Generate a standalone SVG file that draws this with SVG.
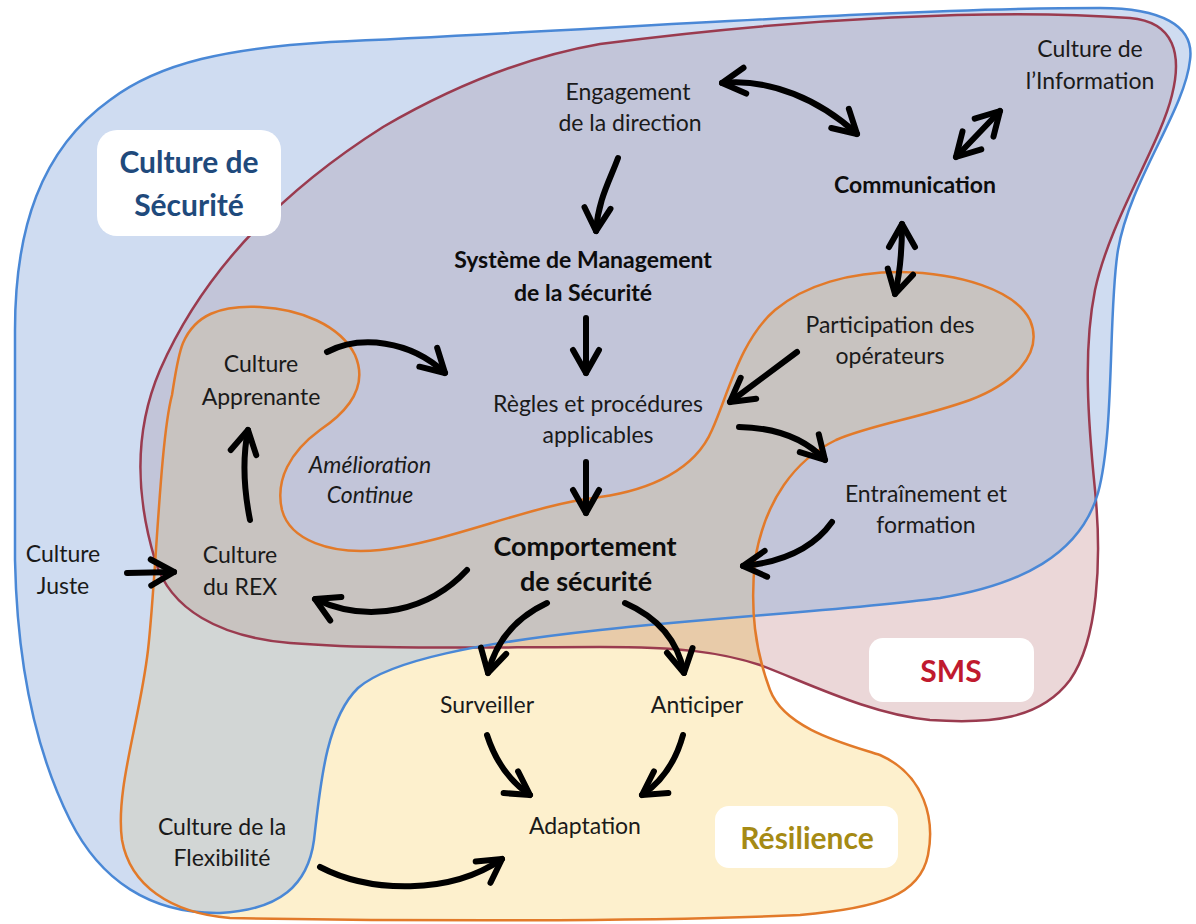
<svg xmlns="http://www.w3.org/2000/svg" width="1196" height="924" viewBox="0 0 1196 924">
<style>
  .t { font-family: Lato, "Open Sans", "Liberation Sans", sans-serif; font-size: 23px; fill: #1a1a1a; text-anchor: middle; }
  .b { font-weight: bold; fill: #0d0d0d; }
  .i { font-style: italic; }
  .big { font-size: 27px; }
  .title { font-family: Lato, "Open Sans", "Liberation Sans", sans-serif; font-weight: bold; font-size: 30px; text-anchor: middle; }
  .box { fill: #ffffff; }
  .arrow { fill: none; stroke: #000; stroke-width: 6; stroke-linecap: round; stroke-linejoin: round; }
  .one { marker-end: url(#ah); }
  .two { marker-start: url(#ah); marker-end: url(#ah); }
  .edge { fill: none; stroke-width: 2.5; }
</style>
<defs>
  <path id="pBlue" d="M 15,330 C 15,230 40,150 110,100 C 160,62 230,48 330,42 C 600,30 900,8 1100,8 C 1160,8 1195,25 1190,60 C 1185,110 1130,180 1118,250 C 1108,310 1115,430 1098,493 C 1080,555 1020,585 940,598 C 850,610 720,617 600,630 C 480,643 390,660 358,688 C 325,720 320,790 314,840 C 308,885 280,910 220,913 C 150,914 100,880 70,820 C 35,750 17,660 15,560 Z"/>
  <path id="pSms" d="M 600,44 C 800,18 1000,8 1130,18 C 1175,22 1182,55 1172,95 C 1160,145 1110,220 1095,290 C 1083,350 1088,420 1095,490 C 1102,560 1098,640 1070,680 C 1040,720 990,724 930,720 C 870,714 810,684 760,665 C 720,652 680,647 600,647 C 480,647 380,650 290,643 C 220,637 170,610 155,560 C 140,510 130,440 160,370 C 195,290 260,205 383,127 C 450,88 520,58 600,44 Z"/>
  <path id="pOr" d="M 183,343 C 195,315 220,305 260,307 C 300,309 340,325 355,355 C 368,385 350,410 320,430 C 290,452 275,480 282,510 C 290,540 330,555 380,550 C 450,542 530,505 600,497 C 650,490 695,470 712,430 C 728,395 740,340 775,310 C 805,285 850,272 900,272 C 960,273 1015,290 1030,320 C 1045,355 1010,385 970,400 C 920,418 870,425 836,440 C 795,460 765,500 755,560 C 750,610 755,650 770,690 C 785,730 850,745 880,755 C 925,775 935,820 928,855 C 920,895 880,908 800,915 C 650,922 400,921 230,918 C 170,913 130,885 122,840 C 115,790 140,720 148,650 C 156,580 160,440 172,395 C 176,370 178,355 183,343 Z"/>
  <clipPath id="cBlue"><use href="#pBlue"/></clipPath>
  <clipPath id="cSms"><use href="#pSms"/></clipPath>
  <marker id="ah" viewBox="-30 -16 36 32" refX="0" refY="0" markerWidth="36" markerHeight="32" markerUnits="userSpaceOnUse" orient="auto-start-reverse" overflow="visible">
    <path d="M -23,-13 L 0,0 L -23,13" fill="none" stroke="#000" stroke-width="6" stroke-linecap="round" stroke-linejoin="round"/>
  </marker>
</defs>
<rect width="1196" height="924" fill="#ffffff"/>

<g id="regions">
  <use href="#pBlue" fill="#cfdcf1"/>
  <use href="#pSms" fill="#ebd7d8"/>
  <g clip-path="url(#cBlue)"><use href="#pSms" fill="#c2c5d9"/></g>
  <use href="#pOr" fill="#fdf0cd"/>
  <g clip-path="url(#cBlue)"><use href="#pOr" fill="#d2d6d5"/></g>
  <g clip-path="url(#cSms)"><use href="#pOr" fill="#e8cba9"/></g>
  <g clip-path="url(#cBlue)"><g clip-path="url(#cSms)"><use href="#pOr" fill="#c8c3c0"/></g></g>
  <use href="#pSms" class="edge" stroke="#9a3b4f"/>
  <use href="#pBlue" class="edge" stroke="#4a88d6"/>
  <use href="#pOr" class="edge" stroke="#e27a2a"/>
</g>

<g id="label-culture-securite">
  <rect class="box" x="97" y="130" width="184" height="106" rx="20"/>
  <text class="title" x="189" y="173" fill="#1f4a7c">Culture de</text>
  <text class="title" x="189" y="216" fill="#1f4a7c">Sécurité</text>
</g>
<g id="label-sms">
  <rect class="box" x="869" y="638" width="165" height="64" rx="14"/>
  <text class="title" x="951" y="682" fill="#c01a2e">SMS</text>
</g>
<g id="label-resilience">
  <rect class="box" x="715" y="806" width="183" height="62" rx="14"/>
  <text class="title" x="807" y="849" fill="#a58a14">Résilience</text>
</g>

<g id="node-engagement">
  <text class="t" x="628" y="100">Engagement</text>
  <text class="t" x="630" y="131">de la direction</text>
</g>
<g id="node-culture-information">
  <text class="t" x="1090" y="57">Culture de</text>
  <text class="t" x="1090" y="89">l’Information</text>
</g>
<g id="node-communication">
  <text class="t b" x="915" y="193">Communication</text>
</g>
<g id="node-sms">
  <text class="t b" x="583" y="268">Système de Management</text>
  <text class="t b" x="583" y="301">de la Sécurité</text>
</g>
<g id="node-participation">
  <text class="t" x="890" y="333">Participation des</text>
  <text class="t" x="890" y="364">opérateurs</text>
</g>
<g id="node-apprenante">
  <text class="t" x="261" y="372">Culture</text>
  <text class="t" x="261" y="405">Apprenante</text>
</g>
<g id="node-regles">
  <text class="t" x="598" y="412">Règles et procédures</text>
  <text class="t" x="598" y="443">applicables</text>
</g>
<g id="node-amelioration">
  <text class="t i" x="370" y="473">Amélioration</text>
  <text class="t i" x="370" y="503">Continue</text>
</g>
<g id="node-entrainement">
  <text class="t" x="926" y="502">Entraînement et</text>
  <text class="t" x="926" y="533">formation</text>
</g>
<g id="node-comportement">
  <text class="t b big" x="585" y="556">Comportement</text>
  <text class="t b big" x="586" y="591">de sécurité</text>
</g>
<g id="node-rex">
  <text class="t" x="240" y="563">Culture</text>
  <text class="t" x="240" y="595">du REX</text>
</g>
<g id="node-juste">
  <text class="t" x="63" y="562">Culture</text>
  <text class="t" x="63" y="594">Juste</text>
</g>
<g id="node-surveiller">
  <text class="t" x="487" y="713">Surveiller</text>
</g>
<g id="node-anticiper">
  <text class="t" x="697" y="713">Anticiper</text>
</g>
<g id="node-flexibilite">
  <text class="t" x="222" y="835">Culture de la</text>
  <text class="t" x="222" y="866">Flexibilité</text>
</g>
<g id="node-adaptation">
  <text class="t" x="585" y="834">Adaptation</text>
</g>

<g id="connectors">
  <path class="arrow two" d="M 722,83 C 770,78 820,100 857,134"/>
  <path class="arrow two" d="M 956,157 L 1000,111"/>
  <path class="arrow one" d="M 618,158 C 610,180 598,200 596,231"/>
  <path class="arrow one" d="M 586,318 L 586,373"/>
  <path class="arrow one" d="M 586,462 L 586,513"/>
  <path class="arrow two" d="M 902,224 Q 902,265 895,294"/>
  <path class="arrow one" d="M 797,352 L 730,402"/>
  <path class="arrow one" d="M 739,427 Q 795,428 825,460"/>
  <path class="arrow one" d="M 832,522 Q 805,560 743,566"/>
  <path class="arrow one" d="M 327,352 C 360,335 410,340 445,373"/>
  <path class="arrow one" d="M 250,520 Q 240,470 248,430"/>
  <path class="arrow one" d="M 467,570 C 430,610 370,625 315,599"/>
  <path class="arrow one" d="M 127,573 L 174,572"/>
  <path class="arrow one" d="M 547,603 Q 500,625 488,673"/>
  <path class="arrow one" d="M 625,603 Q 675,625 684,673"/>
  <path class="arrow one" d="M 487,735 Q 500,775 530,795"/>
  <path class="arrow one" d="M 683,735 Q 672,775 642,795"/>
  <path class="arrow one" d="M 320,867 C 370,893 450,895 502,859"/>
</g>
</svg>
